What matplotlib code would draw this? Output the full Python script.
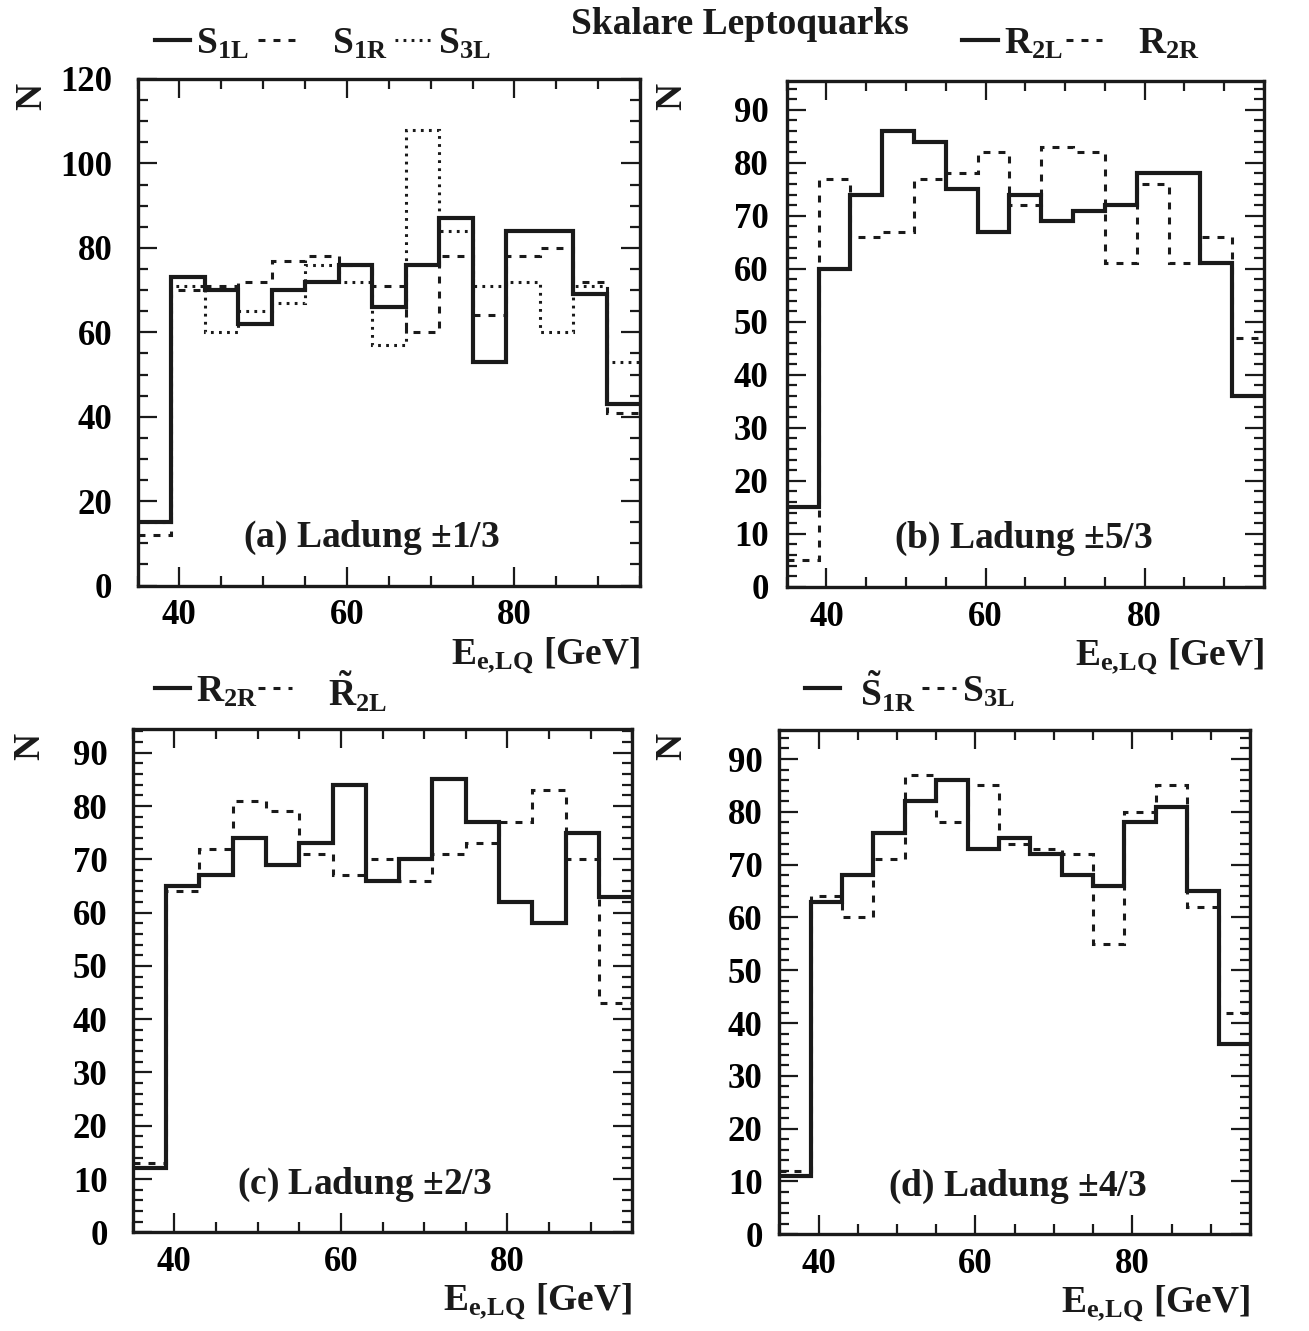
import matplotlib
matplotlib.use("Agg")
import matplotlib.pyplot as plt
from matplotlib.lines import Line2D
from matplotlib.ticker import MultipleLocator

plt.rcParams["font.family"] = "Liberation Serif"
plt.rcParams["font.weight"] = "bold"
plt.rcParams["mathtext.fontset"] = "custom"
plt.rcParams["mathtext.rm"] = "Liberation Serif:bold"
plt.rcParams["mathtext.it"] = "Liberation Serif:bold"
plt.rcParams["mathtext.bf"] = "Liberation Serif:bold"
plt.rcParams["lines.scale_dashes"] = False

# energy bins of the electron-leptoquark system (GeV)
bin_edges = [35, 39, 43, 47, 51, 55, 59, 63, 67, 71, 75, 79, 83, 87, 91, 95]

# (a) charge 1/3
s1l = [15, 73, 70, 62, 70, 72, 76, 66, 76, 87, 53, 84, 84, 69, 43]
s1r = [12, 70, 71, 72, 77, 78, 76, 71, 60, 78, 64, 78, 80, 72, 41]
s3l = [15, 71, 60, 65, 67, 76, 72, 57, 108, 84, 71, 72, 60, 71, 53]

# (b) charge 5/3
r2l = [15, 60, 74, 86, 84, 75, 67, 74, 69, 71, 72, 78, 78, 61, 36]
r2r = [5, 77, 66, 67, 77, 78, 82, 72, 83, 82, 61, 76, 61, 66, 47]

# (c) charge 2/3
r2r_c = [12, 65, 67, 74, 69, 73, 84, 66, 70, 85, 77, 62, 58, 75, 63]
r2l_tilde = [13, 64, 72, 81, 79, 71, 67, 70, 66, 71, 73, 77, 83, 70, 43]

# (d) charge 4/3
s1r_tilde = [11, 63, 68, 76, 82, 86, 73, 75, 72, 68, 66, 78, 81, 65, 36]
s3l_d = [12, 64, 60, 71, 87, 78, 85, 74, 73, 72, 55, 80, 85, 62, 42]

W, H = 1309, 1331
fig = plt.figure(figsize=(W / 100, H / 100), dpi=100)
fig.patch.set_facecolor("white")

def px(x, y):
    return x / W, 1 - y / H

def axes_px(left, top, right, bottom):
    return fig.add_axes([left / W, 1 - bottom / H, (right - left) / W, (bottom - top) / H])

INK = "#1a1a1a"
SOLID = dict(color=INK, lw=3.0, linestyle="-")
DASH = dict(color=INK, lw=2.2, linestyle=(0, (5.0, 5.8)))
DOT = dict(color=INK, lw=2.2, linestyle=(0, (2.0, 3.8)))

def style(ax, ymax, ymajor, yminor, ypad, label, lx):
    ax.set_xlim(35, 95)
    ax.set_ylim(0, ymax)
    ax.xaxis.set_major_locator(MultipleLocator(20))
    ax.xaxis.set_minor_locator(MultipleLocator(5))
    ax.yaxis.set_major_locator(MultipleLocator(ymajor))
    ax.yaxis.set_minor_locator(MultipleLocator(yminor))
    ax.tick_params(which="both", direction="in", top=True, right=True,
                   labelsize=25, width=1.6, color=INK)
    ax.tick_params(which="major", length=14)
    ax.tick_params(which="minor", length=7)
    ax.tick_params(axis="x", pad=10)
    ax.tick_params(axis="y", pad=ypad)
    for s in ax.spines.values():
        s.set_linewidth(2.4)
        s.set_color(INK)
    ax.text(lx, 0.095, label, transform=ax.transAxes, ha="center",
            va="center", fontsize=27, color=INK)
    ax.text(1.0, -0.155, r"$E_{e,\!LQ}$ [GeV]", transform=ax.transAxes,
            ha="right", va="baseline", fontsize=27, color=INK)

def hist(ax, vals, st):
    ax.stairs(vals, bin_edges, baseline=None, **st)

def legend_line(x0, x1, y, st):
    fig.add_artist(Line2D([x0 / W, x1 / W], [1 - y / H, 1 - y / H], **st))

def legend_text(x, y, s):
    fig.text(*px(x, y), s, ha="left", va="center", fontsize=27, color=INK)

# (a)
ax_a = axes_px(137.5, 79, 640, 585.6)
hist(ax_a, s3l, DOT)
hist(ax_a, s1r, DASH)
hist(ax_a, s1l, SOLID)
style(ax_a, 120, 20, 5, 18, r"(a) Ladung $\pm$1/3", 0.465)

# (b)
ax_b = axes_px(786.7, 80.7, 1264, 586.7)
hist(ax_b, r2r, DASH)
hist(ax_b, r2l, SOLID)
style(ax_b, 95.5, 10, 2, 13, r"(b) Ladung $\pm$5/3", 0.497)

# (c)
ax_c = axes_px(132.7, 729.3, 632.3, 1232.3)
hist(ax_c, r2l_tilde, DASH)
hist(ax_c, r2r_c, SOLID)
style(ax_c, 94.4, 10, 2, 18, r"(c) Ladung $\pm$2/3", 0.464)

# (d)
ax_d = axes_px(779.3, 730, 1250, 1234.3)
hist(ax_d, s3l_d, DASH)
hist(ax_d, s1r_tilde, SOLID)
style(ax_d, 95.5, 10, 2, 12, r"(d) Ladung $\pm$4/3", 0.505)

# y axis labels
for x, y in [(32, 96), (672, 96), (30, 746), (672, 746)]:
    fig.text(*px(x, y), "N", rotation=90, ha="center", va="center",
             fontsize=27, color=INK)

fig.text(*px(740, 24), "Skalare Leptoquarks", ha="center", va="center",
         fontsize=27, color=INK)

# legends
legend_line(155, 190, 40, SOLID)
legend_text(196, 44, r"S$_{1L}$")
legend_line(258, 296, 40, DASH)
legend_text(332, 44, r"S$_{1R}$")
legend_line(395, 434, 40, DOT)
legend_text(438, 44, r"S$_{3L}$")

legend_line(962, 998, 40, SOLID)
legend_text(1004, 44, r"R$_{2L}$")
legend_line(1066, 1102, 40, DASH)
legend_text(1138, 44, r"R$_{2R}$")

legend_line(155, 190, 688, SOLID)
legend_text(196, 692, r"R$_{2R}$")
legend_line(258, 292, 688, DASH)
legend_text(328, 692, r"$\tilde{R}_{2L}$")

legend_line(805, 840, 688, SOLID)
legend_text(860, 692, r"$\tilde{S}_{1R}$")
legend_line(922, 956, 688, DASH)
legend_text(962, 692, r"S$_{3L}$")

fig.savefig("out.png", dpi=100, facecolor="white")
